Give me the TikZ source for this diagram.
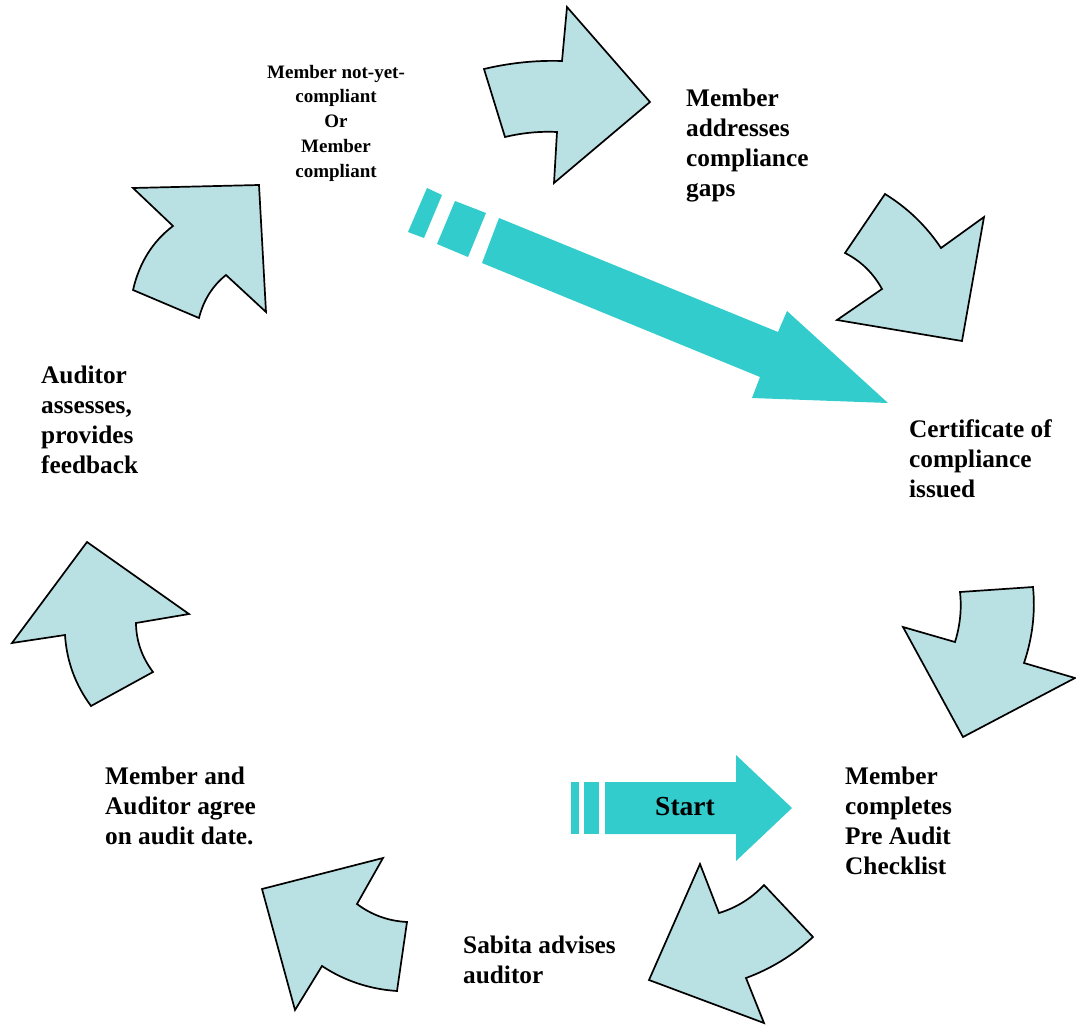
\documentclass[tikz,border=0pt]{standalone}
\usepackage{fontspec}
\setmainfont{Liberation Serif}
\usetikzlibrary{calc}
\definecolor{arrowfill}{RGB}{185,224,227}
\definecolor{tealc}{RGB}{51,204,204}
\begin{document}
\begin{tikzpicture}[x=1pt,y=-1pt,
  cyc/.style={fill=arrowfill,draw=black,line width=1.7pt,line join=miter},
  tealshape/.style={fill=tealc,draw=none},
  lbl/.style={anchor=base west,inner sep=0pt,font=\bfseries\fontsize{25.3}{30}\selectfont},
  smalllbl/.style={anchor=base,inner sep=0pt,font=\bfseries\fontsize{19}{24.75}\selectfont}]
\useasboundingbox (0,0) rectangle (1076,1025);

% cycle arrows (curved edges as quadratic arcs)
\draw[cyc] (484,69) .. controls ($(484,69)!0.6667!(523,59.75)$) and ($(562,61)!0.6667!(523,59.75)$) .. (562,61) -- (567,7) -- (650,102) -- (554,183) -- (557,132) .. controls ($(557,132)!0.6667!(531,130.75)$) and ($(505,137)!0.6667!(531,130.75)$) .. (505,137) -- cycle;
\draw[cyc] (885,194) .. controls ($(885,194)!0.6667!(919,215)$) and ($(941,248)!0.6667!(919,215)$) .. (941,248) -- (984,217) -- (962,341) -- (837,320) -- (882,289) .. controls ($(882,289)!0.6667!(868.75,265)$) and ($(845,253)!0.6667!(868.75,265)$) .. (845,253) -- cycle;
\draw[cyc] (960,592) -- (1033,587) .. controls ($(1033,587)!0.6667!(1036.75,625)$) and ($(1024,663)!0.6667!(1036.75,625)$) .. (1024,663) -- (1075,678) -- (963,737) -- (903,627) -- (955,642) .. controls ($(955,642)!0.6667!(962.75,617)$) and ($(960,592)!0.6667!(962.75,617)$) .. cycle;
\draw[cyc] (700,864) -- (719,913) .. controls ($(719,913)!0.6667!(745.25,905)$) and ($(764,885)!0.6667!(745.25,905)$) .. (764,885) -- (813,937) .. controls ($(813,937)!0.6667!(783.25,964.25)$) and ($(746,978)!0.6667!(783.25,964.25)$) .. (746,978) -- (764,1023) -- (649,980) -- cycle;
\draw[cyc] (383,858) -- (357,904) .. controls ($(357,904)!0.6667!(379,920.5)$) and ($(407,922)!0.6667!(379,920.5)$) .. (407,922) -- (397,991) .. controls ($(397,991)!0.6667!(355.75,988.25)$) and ($(322,966)!0.6667!(355.75,988.25)$) .. (322,966) -- (295,1010) -- (262,889) -- cycle;
\draw[cyc] (87,542) -- (189,614) -- (136,623) .. controls ($(136,623)!0.6667!(136.25,649.75)$) and ($(153,672)!0.6667!(136.25,649.75)$) .. (153,672) -- (91,706) .. controls ($(91,706)!0.6667!(67.5,674.25)$) and ($(65,635)!0.6667!(67.5,674.25)$) .. (65,635) -- (12,643) -- cycle;
\draw[cyc] (133,188) -- (259,185) -- (266,312) -- (226,275) .. controls ($(226,275)!0.6667!(205.75,291.25)$) and ($(199,318)!0.6667!(205.75,291.25)$) .. (199,318) -- (133,290) .. controls ($(133,290)!0.6667!(142.5,249)$) and ($(173,226)!0.6667!(142.5,249)$) .. (173,226) -- cycle;

% big teal arrow
\fill[tealshape] (427,188) -- (442,195) -- (424,238) -- (408,232) -- cycle;
\fill[tealshape] (455,201) -- (486,213) -- (468,257) -- (437,244) -- cycle;
\fill[tealshape] (499,218) -- (778,332) -- (787,311) -- (888,403) -- (752,398) -- (760,377) -- (482,263) -- cycle;

% start arrow
\fill[tealshape] (571,782) rectangle (579,834);
\fill[tealshape] (584,782) rectangle (599,834);
\fill[tealshape] (605,782) -- (736,782) -- (736,755) -- (792,808) -- (736,861) -- (736,834) -- (605,834) -- cycle;
\node[anchor=base,inner sep=0pt,font=\bfseries\fontsize{27.5}{32}\selectfont] (start) at (685,815) {Start};

% labels
\node[smalllbl] (status) at (336,78) {\begin{tabular}[t]{@{}c@{}}Member not-yet-\\compliant\\Or\\Member\\compliant\end{tabular}};
\node[lbl] (gaps) at (686,106) {\begin{tabular}[t]{@{}l@{}}Member\\addresses\\compliance\\gaps\end{tabular}};
\node[lbl] (cert) at (909,437) {\begin{tabular}[t]{@{}l@{}}Certificate of\\compliance\\issued\end{tabular}};
\node[lbl] (checklist) at (845,784) {\begin{tabular}[t]{@{}l@{}}Member\\completes\\Pre Audit\\Checklist\end{tabular}};
\node[lbl] (sabita) at (463,953) {\begin{tabular}[t]{@{}l@{}}Sabita advises\\auditor\end{tabular}};
\node[lbl] (agree) at (105,784) {\begin{tabular}[t]{@{}l@{}}Member and\\Auditor agree\\on audit date.\end{tabular}};
\node[lbl] (assess) at (41,383) {\begin{tabular}[t]{@{}l@{}}Auditor\\assesses,\\provides\\feedback\end{tabular}};
\end{tikzpicture}
\end{document}
